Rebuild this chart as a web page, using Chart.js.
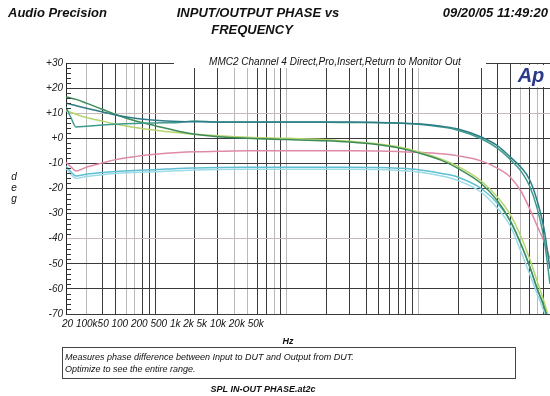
<!DOCTYPE html>
<html>
<head>
<meta charset="utf-8">
<script src="https://cdn.jsdelivr.net/npm/chart.js@4.4.0/dist/chart.umd.min.js"></script>
<style>
  body { margin: 0; background: #fff; }
</style>
</head>
<body>
<canvas id="phaseChart" width="550" height="396"></canvas>
<script>
// frequency points (Hz) shared by every trace
const freqs = [21, 23, 25, 30, 40, 50, 70, 100, 150, 200, 300, 500, 1000, 2000, 3000, 5000,
  7000, 10000, 15000, 20000, 30000, 40000, 50000, 60000, 70000, 80000, 90000, 100000];

// phase in deg
const tealDark = [14, 13.5, 13, 12, 10.5, 9.3, 8, 7.2, 6.7, 6.6, 6.5, 6.5, 6.5, 6.5, 6.5, 6.3,
  6.1, 5.8, 4.8, 3.7, 0.5, -3, -7.5, -11.5, -16.5, -25, -36, -52];
const tealGreen = [12.5, 8, 4.5, 4.8, 5.3, 5.6, 5.9, 6.1, 6.3, 6.9, 6.4, 6.4, 6.4, 6.4, 6.3, 6.2,
  6.0, 5.6, 4.5, 3.2, -0.2, -4, -8.5, -13, -19, -28, -40, -58];
const greenDark = [16.5, 16, 15.5, 14, 11.5, 9.5, 7, 5, 2.8, 1.6, 0.6, 0, -0.5, -1, -1.5, -2.6,
  -3.8, -5.8, -8.8, -12, -18, -25, -33, -42, -51, -60, -67, -75];
const yellowGreen = [11, 10.3, 9.6, 8.3, 6.8, 5.7, 4.3, 3.2, 2.2, 1.6, 1, 0.4, 0, -0.6, -1.2, -2.3,
  -3.4, -5.3, -8.3, -11.2, -17, -23.5, -30.5, -39, -48, -57, -65, -73];
const pink = [-9.5, -11.5, -13, -11.5, -9.8, -8.5, -7.3, -6.4, -5.7, -5.4, -5.2, -5, -5, -5, -5, -5.1,
  -5.3, -5.6, -6.2, -7, -9, -12, -15.5, -21, -28, -35, -41, -48];
const cyan = [-11, -13.5, -15, -14.3, -13.6, -13.2, -12.8, -12.5, -12, -11.8, -11.6, -11.5, -11.5, -11.5, -11.5, -11.6,
  -11.9, -12.5, -14, -15.5, -20, -26, -33, -42, -51, -60, -67, -75];
const cyanLight = [-12, -14.5, -16, -15.2, -14.5, -14, -13.6, -13.3, -12.9, -12.6, -12.4, -12.3, -12.3, -12.3, -12.3, -12.4,
  -12.8, -13.4, -15, -16.8, -21.5, -28, -35, -45, -54, -62, -69, -76];

// the x labels as printed under the plot (one run of text)
const xTickText = ['20', '100k50', '100', '200', '500', '1k', '2k', '5k', '10k', '20k', '50k'];
// grid lines that come out pale in the print
const lightFreqs = [30, 60, 70, 400, 500, 800, 1000, 10000, 60000, 80000, 100000];
const lightDeg = [10, -40];

const FONT = "'Liberation Sans', Arial, sans-serif";

const gridFreqs = [];
for (let d = 10; d <= 10000; d *= 10) {
  for (let m = 1; m <= 9; m++) gridFreqs.push(d * m);
}
gridFreqs.push(100000);

function pts(vals) {
  return freqs.map((f, i) => ({ x: f, y: vals[i] }));
}

const traces = [
  { label: 'ch A', data: tealDark, color: '#2e7c86' },
  { label: 'ch B', data: tealGreen, color: '#3f9c8c' },
  { label: 'ch C', data: greenDark, color: '#3c8c58' },
  { label: 'ch D', data: yellowGreen, color: '#b6d46c' },
  { label: 'ch E', data: pink, color: '#e08aaa' },
  { label: 'ch F', data: cyan, color: '#5fbfd2' },
  { label: 'ch G', data: cyanLight, color: '#9cdbe8' }
];

// titles, minor ticks and the note box
const decor = {
  id: 'decor',
  afterDraw(chart) {
    const { ctx, chartArea: a, scales: { y } } = chart;
    ctx.save();

    ctx.strokeStyle = '#333';
    ctx.lineWidth = 1;
    for (let v = -68; v < 30; v += 2) {
      if (v % 10 === 0) continue;
      const py = Math.round(y.getPixelForValue(v)) + 0.5;
      ctx.beginPath();
      ctx.moveTo(a.left, py);
      ctx.lineTo(a.left + 5, py);
      ctx.stroke();
    }

    ctx.fillStyle = '#111';
    ctx.textBaseline = 'middle';
    ctx.font = 'italic bold 13px ' + FONT;
    ctx.textAlign = 'left';
    ctx.fillText('Audio Precision', 8, 13);
    ctx.textAlign = 'center';
    ctx.fillText('INPUT/OUTPUT PHASE vs', 258, 13);
    ctx.fillText('FREQUENCY', 252, 30);
    ctx.textAlign = 'right';
    ctx.fillText('09/20/05 11:49:20', 548, 13);

    // caption sits on the top border
    ctx.fillStyle = '#fff';
    ctx.fillRect(174, 55, 312, 13);
    ctx.fillStyle = '#111';
    ctx.font = 'italic 10px ' + FONT;
    ctx.textAlign = 'center';
    ctx.fillText('MMC2 Channel 4 Direct,Pro,Insert,Return to Monitor Out', 335, 62);

    ctx.fillStyle = '#fff';
    ctx.fillRect(514, 65, 34, 22);
    ctx.fillStyle = '#2b3a8c';
    ctx.font = 'italic bold 20px ' + FONT;
    ctx.fillText('Ap', 531, 76);

    ctx.fillStyle = '#111';
    ctx.font = 'italic 10px ' + FONT;
    ctx.fillText('d', 14, 177);
    ctx.fillText('e', 14, 188);
    ctx.fillText('g', 14, 199);

    ctx.textAlign = 'left';
    ctx.fillText(xTickText.join(' '), 62, 324);

    ctx.textAlign = 'center';
    ctx.font = 'italic bold 9px ' + FONT;
    ctx.fillText('Hz', 288, 342);

    ctx.strokeStyle = '#444';
    ctx.strokeRect(62.5, 347.5, 453, 31);
    ctx.textAlign = 'left';
    ctx.font = 'italic 9px ' + FONT;
    ctx.fillText('Measures phase difference between Input to DUT and Output from DUT.', 65, 357);
    ctx.fillText('Optimize to see the entire range.', 65, 369);

    ctx.textAlign = 'center';
    ctx.font = 'italic bold 9px ' + FONT;
    ctx.fillText('SPL IN-OUT PHASE.at2c', 263, 390);

    ctx.restore();
  }
};

new Chart(document.getElementById('phaseChart'), {
  type: 'line',
  data: {
    datasets: traces.map(t => ({
      label: t.label,
      data: pts(t.data),
      borderColor: t.color,
      backgroundColor: t.color,
      borderWidth: 1.5,
      pointRadius: 0,
      cubicInterpolationMode: 'monotone',
      fill: false
    }))
  },
  options: {
    responsive: false,
    animation: false,
    layout: { padding: { top: 63, right: 0, bottom: 0, left: 0 } },
    plugins: {
      legend: { display: false },
      tooltip: { enabled: false }
    },
    scales: {
      x: {
        type: 'logarithmic',
        min: 21,
        max: 100000,
        afterBuildTicks: s => {
          s.ticks = gridFreqs.filter(v => v >= 21).map(v => ({ value: v }));
        },
        afterFit: s => { s.height = 82; },
        ticks: { display: false },
        grid: {
          color: c => lightFreqs.includes(c.tick.value) ? '#b9b9b9' : '#3a3a3a',
          drawTicks: false
        },
        border: { display: false }
      },
      y: {
        min: -70,
        max: 30,
        afterFit: s => { s.width = 66; },
        ticks: {
          stepSize: 10,
          padding: 3,
          color: '#222',
          font: { family: FONT, size: 10, style: 'italic' },
          callback: v => v > 0 ? '+' + v : (v === 0 ? '+0' : String(v))
        },
        grid: {
          color: c => lightDeg.includes(c.tick.value) ? '#c4b8b8' : '#3a3a3a',
          drawTicks: false
        },
        border: { color: '#222' }
      }
    }
  },
  plugins: [decor]
});
</script>
</body>
</html>
